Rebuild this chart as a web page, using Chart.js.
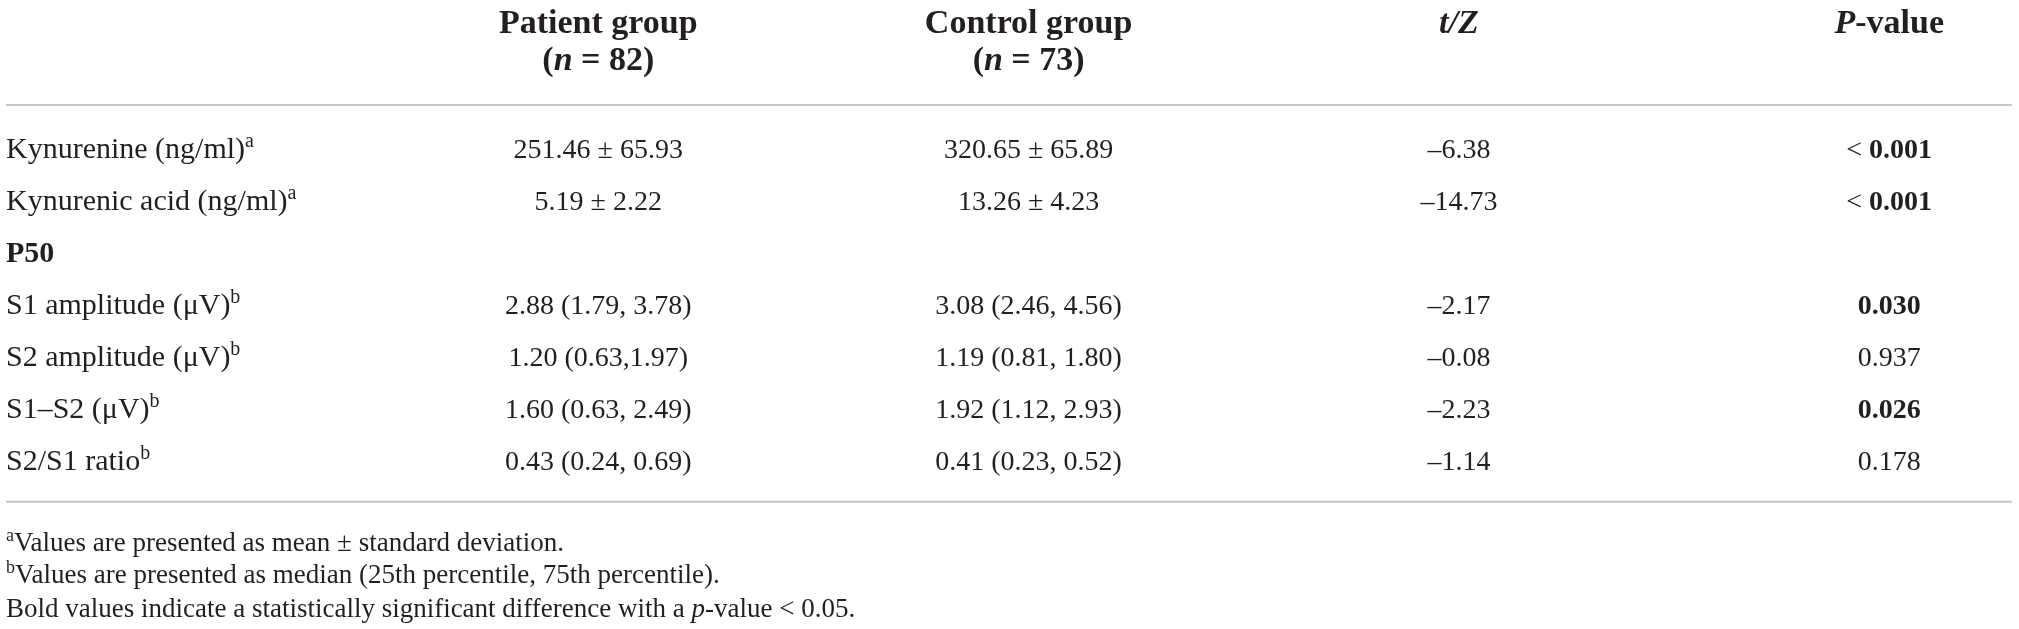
<!DOCTYPE html>
<html>
<head>
<meta charset="utf-8">
<script src="https://cdn.jsdelivr.net/npm/chart.js@4.4.1/dist/chart.umd.min.js"></script>
<style>
  html, body { margin: 0; padding: 0; background: #fff; }
  #wrap { width: 2019px; height: 629px; position: relative; }
</style>
</head>
<body>
<div id="wrap"><canvas id="table-chart"></canvas></div>
<script>
// table content
const rowLabels = ["Kynurenine (ng/ml)", "Kynurenic acid (ng/ml)", "P50", "S1 amplitude (μV)", "S2 amplitude (μV)", "S1–S2 (μV)", "S2/S1 ratio"];
const rowNotes = ["a", "a", "", "b", "b", "b", "b"];
const patientValues = ["251.46 ± 65.93", "5.19 ± 2.22", "", "2.88 (1.79, 3.78)", "1.20 (0.63,1.97)", "1.60 (0.63, 2.49)", "0.43 (0.24, 0.69)"];
const controlValues = ["320.65 ± 65.89", "13.26 ± 4.23", "", "3.08 (2.46, 4.56)", "1.19 (0.81, 1.80)", "1.92 (1.12, 2.93)", "0.41 (0.23, 0.52)"];
const tzValues = ["–6.38", "–14.73", "", "–2.17", "–0.08", "–2.23", "–1.14"];
const pValues = ["< 0.001", "< 0.001", "", "0.030", "0.937", "0.026", "0.178"];
const significant = [true, true, false, true, false, true, false];
const headerTop = ["Patient group", "Control group", "t/Z", "P-value"];
const headerBottom = ["(n = 82)", "(n = 73)", "", ""];
const footMarks = ["a", "b", ""];
const footTexts = [
  "Values are presented as mean ± standard deviation.",
  "Values are presented as median (25th percentile, 75th percentile).",
  "Bold values indicate a statistically significant difference with a p-value < 0.05."
];

// where things sit on the scales (column units / row units)
const LAYOUT = {
  xMin: -0.3904, xMax: 4.3016,
  yMin: -3.038, yMax: 9.058,
  labelX: -0.3765,
  ruleLeft: -0.3765, ruleRight: 4.285,
  headerRule: -1.02, bottomRule: 6.61,
  headerLines: [-2.40, -1.69],
  footLines: [7.56, 8.17, 8.82]
};

const FONT = '"Liberation Serif", "DejaVu Serif", serif';
const INK = "#231f20";

function fontFor(seg, size) {
  const px = seg.sup ? Math.round(size * 0.68) : size;
  return `${seg.i ? "italic " : ""}${seg.b ? "bold " : ""}${px}px ${FONT}`;
}

function drawRich(ctx, segs, x, y, align, size) {
  let w = 0;
  segs.forEach(s => {
    ctx.font = fontFor(s, size);
    s.w = ctx.measureText(s.t).width;
    w += s.w;
  });
  let cx = align === "center" ? x - w / 2 : x;
  segs.forEach(s => {
    ctx.font = fontFor(s, size);
    ctx.fillText(s.t, cx, s.sup ? y - size * 0.36 : y);
    cx += s.w;
  });
}

// split on a capturing regex: odd pieces are the italic ones
function italicSplit(text, re, bold) {
  return text.split(re)
    .map((t, k) => ({ t: t, b: bold, i: k % 2 === 1 }))
    .filter(s => s.t !== "");
}

function cellSegments(ds, i) {
  const text = ds.texts[i];
  if (ds.kind === "label") {
    const segs = [{ t: text, b: text === "P50" }];
    if (rowNotes[i]) segs.push({ t: rowNotes[i], sup: true });
    return segs;
  }
  if (ds.kind === "p") {
    if (!significant[i]) return [{ t: text }];
    if (text.startsWith("< ")) return [{ t: "< " }, { t: text.slice(2), b: true }];
    return [{ t: text, b: true }];
  }
  if (ds.kind === "head") {
    return italicSplit(text, /(\bn\b|t\/Z|P(?=-))/, true);
  }
  if (ds.kind === "foot") {
    const segs = [];
    if (footMarks[i]) segs.push({ t: footMarks[i], sup: true });
    return segs.concat(italicSplit(text, /(\bp(?=-))/, false));
  }
  return [{ t: text }];
}

const textPlugin = {
  id: "cellText",
  afterDatasetsDraw(chart) {
    const ctx = chart.ctx;
    ctx.save();
    ctx.fillStyle = INK;
    ctx.textBaseline = "alphabetic";
    chart.data.datasets.forEach((ds, di) => {
      if (!ds.texts) return;
      const meta = chart.getDatasetMeta(di);
      meta.data.forEach((el, j) => {
        const i = ds.data[j].i;
        drawRich(ctx, cellSegments(ds, i), el.x, el.y, ds.align, ds.size);
      });
    });
    ctx.restore();
  }
};

function columnPoints(values, col) {
  const pts = [];
  values.forEach((v, i) => { if (v) pts.push({ x: col, y: i, i: i }); });
  return pts;
}

function textSet(kind, texts, data, align, size) {
  return { type: "scatter", kind: kind, texts: texts, data: data, align: align, size: size, pointRadius: 0, pointHoverRadius: 0 };
}

function ruleSet(y) {
  return {
    type: "line",
    data: [{ x: LAYOUT.ruleLeft, y: y }, { x: LAYOUT.ruleRight, y: y }],
    borderColor: "#c6c6c6", borderWidth: 2, pointRadius: 0, fill: false
  };
}

const headTexts = headerTop.concat(headerBottom);
const headPoints = [];
headTexts.forEach((t, k) => {
  if (t) headPoints.push({ x: (k % 4) + 1, y: LAYOUT.headerLines[Math.floor(k / 4)], i: k });
});

const footPoints = footTexts.map((t, k) => ({ x: LAYOUT.labelX, y: LAYOUT.footLines[k], i: k }));

new Chart(document.getElementById("table-chart"), {
  type: "scatter",
  data: {
    datasets: [
      ruleSet(LAYOUT.headerRule),
      ruleSet(LAYOUT.bottomRule),
      textSet("head", headTexts, headPoints, "center", 34),
      textSet("label", rowLabels, rowLabels.map((t, i) => ({ x: LAYOUT.labelX, y: i, i: i })), "left", 30),
      textSet("value", patientValues, columnPoints(patientValues, 1), "center", 28),
      textSet("value", controlValues, columnPoints(controlValues, 2), "center", 28),
      textSet("value", tzValues, columnPoints(tzValues, 3), "center", 28),
      textSet("p", pValues, columnPoints(pValues, 4), "center", 28),
      textSet("foot", footTexts, footPoints, "left", 27)
    ]
  },
  options: {
    responsive: true,
    maintainAspectRatio: false,
    animation: false,
    events: [],
    layout: { padding: 0 },
    plugins: { legend: { display: false }, tooltip: { enabled: false } },
    scales: {
      x: { type: "linear", min: LAYOUT.xMin, max: LAYOUT.xMax, display: false },
      y: { type: "linear", min: LAYOUT.yMin, max: LAYOUT.yMax, reverse: true, display: false }
    }
  },
  plugins: [textPlugin]
});
</script>
</body>
</html>
